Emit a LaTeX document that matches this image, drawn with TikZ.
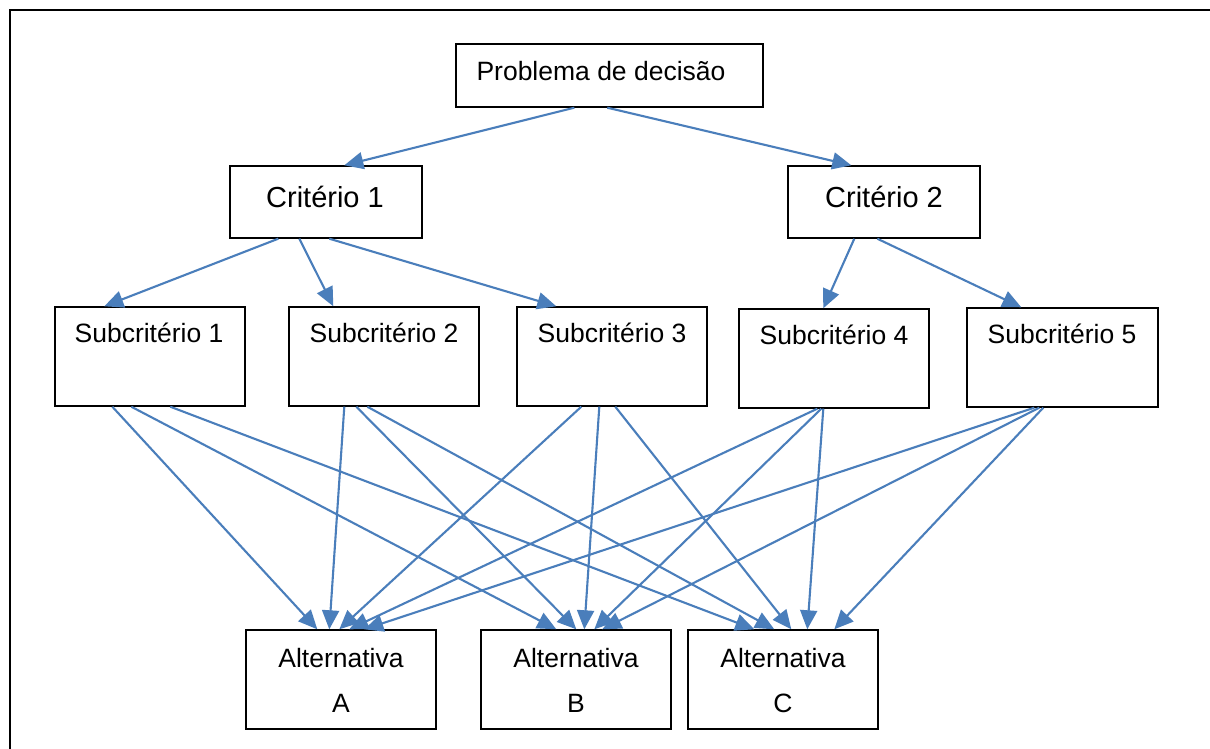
\documentclass[tikz,border=0pt]{standalone}
\usepackage{fontspec}
\setmainfont{Liberation Sans}
\usetikzlibrary{arrows.meta}
\definecolor{linkblue}{RGB}{74,126,187}
\begin{document}
\begin{tikzpicture}[x=1pt,y=-1pt,
  box/.style={draw=black,line width=1.4pt,rectangle,inner sep=0pt,fill=white},
  txt/.style={anchor=base,inner sep=0pt,font=\fontsize{26.5}{30}\selectfont},
  bigtxt/.style={anchor=base,inner sep=0pt,font=\fontsize{29}{32}\selectfont},
  link/.style={draw=linkblue,line width=2.1pt,-{Triangle[length=19pt,width=17pt]}}]
\useasboundingbox (0,0) rectangle (1210,749);
\fill[white] (0,0) rectangle (1210,749);
% outer frame (runs off the page on the right and bottom)
\draw[line width=1.4pt] (10,770) -- (10,10) -- (1230,10);

% boxes
\node[box,minimum width=307pt,minimum height=63pt] (p) at (609.5,75.5) {};
\node[box,minimum width=192pt,minimum height=72pt] (c1) at (326,202) {};
\node[box,minimum width=192pt,minimum height=72pt] (c2) at (884,202) {};
\node[box,minimum width=190pt,minimum height=99pt] (s1) at (150,356.5) {};
\node[box,minimum width=190pt,minimum height=99pt] (s2) at (384,356.5) {};
\node[box,minimum width=190pt,minimum height=99pt] (s3) at (612,356.5) {};
\node[box,minimum width=190pt,minimum height=99pt] (s4) at (834,358.5) {};
\node[box,minimum width=191pt,minimum height=99pt] (s5) at (1062.5,357.5) {};
\node[box,minimum width=190pt,minimum height=99pt] (aA) at (341,679.5) {};
\node[box,minimum width=190pt,minimum height=99pt] (aB) at (576,679.5) {};
\node[box,minimum width=190pt,minimum height=99pt] (aC) at (783,679.5) {};

% texts
\node[txt] (pt) at (601,81) {Problema de decisão};
\node[bigtxt] (c1t) at (325,207) {Critério 1};
\node[bigtxt] (c2t) at (884,207) {Critério 2};
\node[txt] (s1t) at (149,342) {Subcritério 1};
\node[txt] (s2t) at (384,342) {Subcritério 2};
\node[txt] (s3t) at (612,342) {Subcritério 3};
\node[txt] (s4t) at (834,344) {Subcritério 4};
\node[txt] (s5t) at (1062,343) {Subcritério 5};
\node[txt] (aAt) at (341,667) {Alternativa};
\node[txt] (aAl) at (341,712) {A};
\node[txt] (aBt) at (576,667) {Alternativa};
\node[txt] (aBl) at (576,712) {B};
\node[txt] (aCt) at (783,667) {Alternativa};
\node[txt] (aCl) at (783,712) {C};

% problem -> criteria
\draw[link] ([xshift=119pt]p.south west) -- ([xshift=115pt]c1.north west);
\draw[link] ([xshift=152pt]p.south west) -- ([xshift=64pt]c2.north west);

% criteria -> subcriteria
\draw[link] ([xshift=49pt]c1.south west) -- ([xshift=50pt]s1.north west);
\draw[link] ([xshift=70pt]c1.south west) -- ([xshift=45pt]s2.north west);
\draw[link] ([xshift=100pt]c1.south west) -- ([xshift=40pt]s3.north west);
\draw[link] ([xshift=67pt]c2.south west) -- ([xshift=85pt]s4.north west);
\draw[link] ([xshift=90pt]c2.south west) -- ([xshift=55pt]s5.north west);

% subcriteria -> alternatives
\draw[link] ([xshift=58pt]s1.south west) -- ([xshift=72pt]aA.north west);
\draw[link] ([xshift=77pt]s1.south west) -- ([xshift=76pt]aB.north west);
\draw[link] ([xshift=116pt]s1.south west) -- ([xshift=67pt]aC.north west);

\draw[link] ([xshift=56pt]s2.south west) -- ([xshift=84pt]aA.north west);
\draw[link] ([xshift=68pt]s2.south west) -- ([xshift=96pt]aB.north west);
\draw[link] ([xshift=79pt]s2.south west) -- ([xshift=87pt]aC.north west);

\draw[link] ([xshift=65pt]s3.south west) -- ([xshift=94pt]aA.north west);
\draw[link] ([xshift=83pt]s3.south west) -- ([xshift=104pt]aB.north west);
\draw[link] ([xshift=99pt]s3.south west) -- ([xshift=104pt]aC.north west);

\draw[link] ([xshift=79pt]s4.south west) -- ([xshift=104pt]aA.north west);
\draw[link] ([xshift=83pt]s4.south west) -- ([xshift=114pt]aB.north west);
\draw[link] ([xshift=85pt]s4.south west) -- ([xshift=120pt]aC.north west);

\draw[link] ([xshift=68pt]s5.south west) -- ([xshift=119pt]aA.north west);
\draw[link] ([xshift=73pt]s5.south west) -- ([xshift=122pt]aB.north west);
\draw[link] ([xshift=77pt]s5.south west) -- ([xshift=147pt]aC.north west);
\end{tikzpicture}
\end{document}
